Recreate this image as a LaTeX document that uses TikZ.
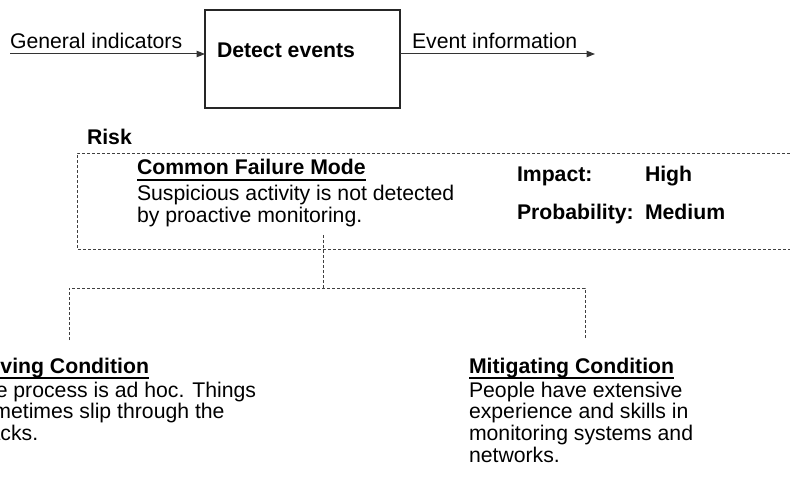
\documentclass[tikz,border=0pt]{standalone}
\usepackage{fontspec}
\setmainfont{Liberation Sans}
\usetikzlibrary{arrows.meta}
\begin{document}
\begin{tikzpicture}[x=1bp,y=-1bp,
  every node/.style={inner sep=0pt, outer sep=0pt, anchor=base west, text=black,
    font=\fontsize{21.3}{22}\selectfont},
  bold/.style={font=\fontsize{21.3}{22}\selectfont\bfseries},
  procbox/.style={draw=black!85, line width=1.2bp, anchor=north west,
    minimum width=195bp, minimum height=98bp},
  flow/.style={draw=black!80, line width=1bp, -{Triangle[length=8.5bp,width=6.5bp]}},
  dashline/.style={draw=black!75, line width=0.9bp, dash pattern=on 3bp off 2bp},
  ubar/.style={draw=black, line width=1.8bp}]
\useasboundingbox (0,0) rectangle (790,477);

% process box with its input and output
\node[procbox] (proc) at (205,10) {};
\node[bold] (proclabel) at (217,58) {Detect events};
\coordinate (inStart) at (10,54);
\coordinate (outEnd) at (595,54);
\node (inlabel) at (10,49) {General indicators};
\node (outlabel) at (412,49) {Event information};
\draw[flow] (inStart) -- (proc.west |- inStart);
\draw[flow] (proc.east |- outEnd) -- (outEnd);

% risk statement
\node[bold] (risk) at (87,145) {Risk};
\draw[dashline] (800,153) -- (77,153) -- (77,249) -- (800,249);
\node[bold] (cfm) at (137,175) {Common Failure Mode};
\draw[ubar] ([yshift=-5bp]cfm.base west) -- ([yshift=-5bp]cfm.base east);
\node (cfmtext) at (137,201) {\begin{tabular}[t]{@{}l@{}}Suspicious activity is not detected\\by proactive monitoring.\end{tabular}};
\node[bold] (impact) at (517,182) {Impact:};
\node[bold] (impactval) at (645,182) {High};
\node[bold] (prob) at (517,220) {Probability:};
\node[bold] (probval) at (645,220) {Medium};

% branches to the conditions
\coordinate (riskFoot) at (323,235);
\coordinate (fork) at (323,288);
\coordinate (leftTop) at (69,288);
\coordinate (leftEnd) at (69,340);
\coordinate (rightTop) at (585,288);
\coordinate (rightEnd) at (585,340);
\draw[dashline] (riskFoot) -- (fork);
\draw[dashline] (leftEnd) -- (leftTop) -- (rightTop) -- (rightEnd);

% driving condition
\node[bold] (drv) at (-29,373) {Driving Condition};
\draw[ubar] ([yshift=-5bp]drv.base west) -- ([yshift=-5bp]drv.base east);
\node (drvtext) at (-29,397) {\begin{tabular}[t]{@{}l@{}}The process is ad hoc. Things\\sometimes slip through the\\cracks.\end{tabular}};

% mitigating condition
\node[bold] (mit) at (469,373) {Mitigating Condition};
\draw[ubar] ([yshift=-5bp]mit.base west) -- ([yshift=-5bp]mit.base east);
\node (mittext) at (469,397) {\begin{tabular}[t]{@{}l@{}}People have extensive\\experience and skills in\\monitoring systems and\\networks.\end{tabular}};
\end{tikzpicture}
\end{document}
